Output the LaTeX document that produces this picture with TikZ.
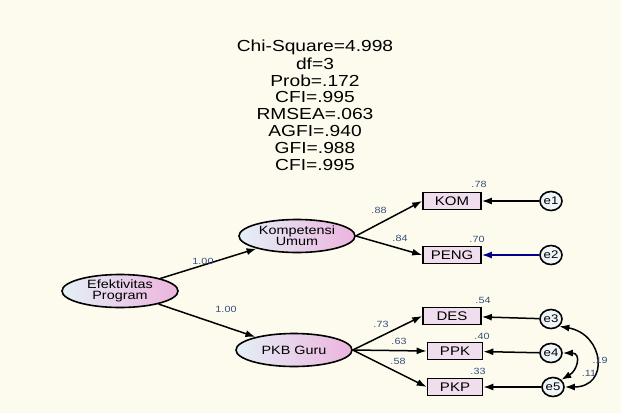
\documentclass[tikz,border=0pt]{standalone}
\usepackage{fontspec}
\setmainfont{Liberation Sans}[FakeStretch=1.2]
\usetikzlibrary{shapes.geometric,arrows.meta}
\definecolor{bgc}{RGB}{253,251,238}
\definecolor{lblc}{RGB}{55,80,125}
\definecolor{latl}{RGB}{228,240,246}
\definecolor{latr}{RGB}{236,180,222}
\definecolor{boxc}{RGB}{240,222,238}
\tikzset{
  latent/.style={ellipse, draw=black, line width=1.6pt, left color=latl, right color=latr, minimum width=116pt, minimum height=33pt, inner sep=0pt, align=center, font=\fontsize{12}{11}\selectfont},
  obs/.style={rectangle, draw=black, line width=1.6pt, fill=boxc, minimum width=58pt, minimum height=17pt, inner sep=0pt, font=\fontsize{12.5}{12}\selectfont},
  err/.style={ellipse, draw=black, line width=1.6pt, fill=latl!60, minimum width=22pt, minimum height=19pt, inner sep=0pt, font=\fontsize{11}{11}\selectfont},
  path/.style={-{Latex[length=10pt,width=7pt]}, line width=1.5pt},
  cov/.style={{Latex[length=10pt,width=7pt]}-{Latex[length=10pt,width=7pt]}, line width=1.5pt},
  lbl/.style={text=lblc, font=\fontsize{9}{9}\selectfont, inner sep=0pt},
  fit/.style={font=\fontsize{16}{17}\selectfont, inner sep=0pt}
}
\begin{document}
\begin{tikzpicture}[x=1pt,y=-1pt]
\fill[bgc] (0,0) rectangle (621,413);
\useasboundingbox (0,0) rectangle (621,413);
\node[fit] (t1) at (315,47) {Chi-Square=4.998};
\node[fit] (t2) at (315,64) {df=3};
\node[fit] (t3) at (315,81) {Prob=.172};
\node[fit] (t4) at (315,97) {CFI=.995};
\node[fit] (t5) at (315,114) {RMSEA=.063};
\node[fit] (t6) at (315,131) {AGFI=.940};
\node[fit] (t7) at (315,148) {GFI=.988};
\node[fit] (t8) at (315,165) {CFI=.995};

\node[latent] (ef) at (120,291) {Efektivitas\\Program};
\node[latent] (ku) at (297,236) {Kompetensi\\Umum};
\node[latent] (pkb) at (294,350) {PKB Guru};

\node[obs] (kom) at (452,201) {KOM};
\node[obs] (peng) at (452,255) {PENG};
\node[obs] (des) at (452,316) {DES};
\node[obs, minimum width=55pt] (ppk) at (455,351) {PPK};
\node[obs, minimum width=55pt] (pkp) at (455,387) {PKP};

\node[err] (e1) at (551,201) {e1};
\node[err] (e2) at (551,255) {e2};
\node[err] (e3) at (551,319) {e3};
\node[err] (e4) at (551,353) {e4};
\node[err] (e5) at (553,387) {e5};

\draw[path] (ef) -- (ku);
\draw[path] (ef) -- (pkb);
\draw[path] (ku.east) -- (kom.west);
\draw[path] (ku.east) -- (peng.west);
\draw[path] (pkb.east) -- (des.west);
\draw[path] (pkb.east) -- (ppk.west);
\draw[path] (pkb.east) -- (pkp.west);
\draw[path] (e1) -- (kom);
\draw[path, draw=blue!55!black] (e2) -- (peng);
\draw[path] (e3) -- (des);
\draw[path] (e4) -- (ppk);
\draw[path] (e5) -- (pkp);
\draw[cov] (e3.south east) to[out=-10,in=0,looseness=1.9] (e5.east);
\draw[cov] (e4.east) to[out=0,in=30,looseness=1.8] (e5.north east);

\node[lbl] (l1) at (203,261) {1.00};
\node[lbl] (l2) at (226,309) {1.00};
\node[lbl] (l3) at (379,210) {.88};
\node[lbl] (l4) at (400,238) {.84};
\node[lbl] (l5) at (479,184) {.78};
\node[lbl] (l6) at (477,239) {.70};
\node[lbl] (l7) at (381,324) {.73};
\node[lbl] (l8) at (399,341) {.63};
\node[lbl] (l9) at (398,361) {.58};
\node[lbl] (l10) at (483,300) {.54};
\node[lbl] (l11) at (482,336) {.40};
\node[lbl] (l12) at (478,371) {.33};
\node[lbl] (l13) at (600,360) {.19};
\node[lbl] (l14) at (589,373) {.11};
\end{tikzpicture}
\end{document}
